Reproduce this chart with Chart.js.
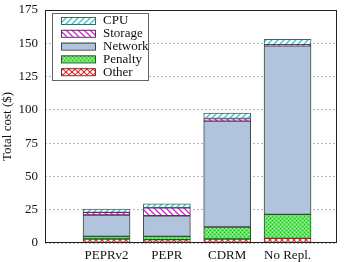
<!DOCTYPE html>
<html>
<head>
<meta charset="utf-8">
<script src="https://cdn.jsdelivr.net/npm/chart.js@4/dist/chart.umd.min.js"></script>
<style>
  html, body { margin: 0; padding: 0; background: #fff; }
  #wrap { width: 349px; height: 262px; position: relative; }
</style>
</head>
<body>
<div id="wrap"><canvas id="costChart"></canvas></div>
<script>
  const CATEGORIES = ["PEPRv2", "PEPR", "CDRM", "No Repl."];
  const OTHER = [3, 2.5, 3, 3.5];
  const PENALTY = [2, 2.5, 9, 18];
  const NETWORK = [16, 15.5, 79.5, 126.5];
  const STORAGE = [2, 6, 2, 1];
  const CPU = [2.5, 3, 4, 4];
  const Y_TICKS = [0, 25, 50, 75, 100, 125, 150, 175];

  const FONT = "'Liberation Serif', 'DejaVu Serif', serif";

  function makePattern(bg, size, draw) {
    const c = document.createElement("canvas");
    c.width = c.height = size;
    const g = c.getContext("2d");
    g.fillStyle = bg;
    g.fillRect(0, 0, size, size);
    draw(g, size);
    return g.createPattern(c, "repeat");
  }

  function slash(g, s) {
    [[0, s, s, 0], [-s / 2, s / 2, s / 2, -s / 2], [s / 2, s * 1.5, s * 1.5, s / 2]].forEach(
      ([a, b, c, d]) => { g.beginPath(); g.moveTo(a, b); g.lineTo(c, d); g.stroke(); }
    );
  }
  function backslash(g, s) {
    [[0, 0, s, s], [-s / 2, s / 2, s / 2, s * 1.5], [s / 2, -s / 2, s * 1.5, s / 2]].forEach(
      ([a, b, c, d]) => { g.beginPath(); g.moveTo(a, b); g.lineTo(c, d); g.stroke(); }
    );
  }

  const cpuFill = makePattern("#ffffff", 6, (g, s) => {
    g.strokeStyle = "#30c8d0"; g.lineWidth = 1.3; slash(g, s);
  });
  const storageFill = makePattern("#ffffff", 6, (g, s) => {
    g.strokeStyle = "#c030c8"; g.lineWidth = 1.3; backslash(g, s);
  });
  const penaltyFill = makePattern("#55ee55", 4, (g) => {
    g.fillStyle = "#22b822";
    g.fillRect(0, 0, 1, 1); g.fillRect(2, 2, 1, 1);
    g.fillStyle = "#99ff99";
    g.fillRect(2, 0, 1, 1); g.fillRect(0, 2, 1, 1);
  });
  const otherFill = makePattern("#ffffff", 6, (g, s) => {
    g.strokeStyle = "#dd3030"; g.lineWidth = 1.2; slash(g, s); backslash(g, s);
  });

  const toXY = (arr) => arr.map((v, i) => ({ x: i, y: v }));

  const datasets = [
    { label: "Other", data: toXY(OTHER), backgroundColor: otherFill, borderColor: "#8a2a2a" },
    { label: "Penalty", data: toXY(PENALTY), backgroundColor: penaltyFill, borderColor: "#1f5a1f" },
    { label: "Network", data: toXY(NETWORK), backgroundColor: "#b0c4de", borderColor: "#444" },
    { label: "Storage", data: toXY(STORAGE), backgroundColor: storageFill, borderColor: "#6a2a6a" },
    { label: "CPU", data: toXY(CPU), backgroundColor: cpuFill, borderColor: "#3a6a6a" },
  ].map((d) => Object.assign(d, { borderWidth: 1, barThickness: 47, borderSkipped: false }));

  const frameAndLegend = {
    id: "frameAndLegend",
    afterDraw(chart) {
      const { ctx, chartArea: a } = chart;
      ctx.save();
      ctx.strokeStyle = "#222";
      ctx.lineWidth = 1;
      ctx.strokeRect(a.left + 0.5, a.top + 0.5, a.right - a.left - 1, a.bottom - a.top - 1);

      const bx = a.left + 7, by = a.top + 3, bw = 96, bh = 67;
      ctx.fillStyle = "#fff";
      ctx.fillRect(bx, by, bw, bh);
      ctx.strokeStyle = "#666";
      ctx.strokeRect(bx + 0.5, by + 0.5, bw, bh);

      ctx.font = "13px " + FONT;
      ctx.textBaseline = "middle";
      const items = chart.data.datasets.slice().reverse();
      items.forEach((ds, i) => {
        const cy = by + 7 + i * 12.8;
        ctx.fillStyle = ds.backgroundColor;
        ctx.fillRect(bx + 9, cy - 3, 34, 7);
        ctx.strokeStyle = ds.borderColor;
        ctx.strokeRect(bx + 9.5, cy - 2.5, 34, 7);
        ctx.fillStyle = "#111";
        ctx.fillText(ds.label, bx + 51, cy + 1);
      });
      ctx.restore();
    },
  };

  new Chart(document.getElementById("costChart"), {
    type: "bar",
    data: { datasets },
    plugins: [frameAndLegend],
    options: {
      responsive: true,
      maintainAspectRatio: false,
      animation: false,
      layout: { padding: { top: 10, right: 12, left: 0, bottom: 0 } },
      plugins: { legend: { display: false }, tooltip: { enabled: false } },
      scales: {
        x: {
          type: "linear",
          stacked: true,
          offset: false,
          min: -1.02,
          max: 3.82,
          afterBuildTicks: (axis) => { axis.ticks = CATEGORIES.map((_, i) => ({ value: i })); },
          afterFit: (axis) => { axis.height = 19; axis.paddingLeft = 0; axis.paddingRight = 0; },
          grid: { display: false, drawTicks: false },
          border: { display: false },
          ticks: {
            color: "#111",
            padding: 5,
            maxRotation: 0,
            autoSkip: false,
            font: { family: FONT, size: 13 },
            callback: (v) => CATEGORIES[v] ?? "",
          },
        },
        y: {
          stacked: true,
          min: 0,
          max: 175,
          afterBuildTicks: (axis) => { axis.ticks = Y_TICKS.map((v) => ({ value: v })); },
          afterFit: (axis) => { axis.width = 45; axis.paddingTop = 0; axis.paddingBottom = 0; },
          grid: { color: "#b8b8b8", drawTicks: false },
          border: { display: false, dash: [2, 2] },
          ticks: { color: "#111", padding: 7, font: { family: FONT, size: 13 } },
          title: {
            display: true,
            text: "Total cost ($)",
            color: "#111",
            padding: 0,
            font: { family: FONT, size: 13 },
          },
        },
      },
    },
  });
</script>
</body>
</html>
